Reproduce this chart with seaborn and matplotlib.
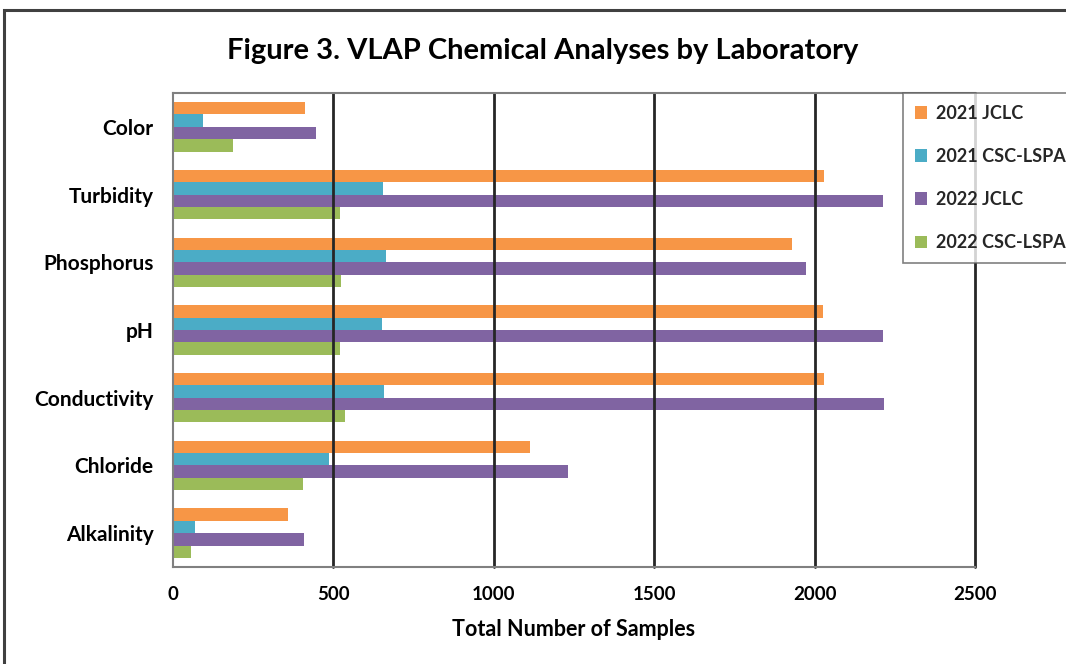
import matplotlib
matplotlib.use("Agg")
import matplotlib.pyplot as plt
from matplotlib.patches import Rectangle
import seaborn as sns
import pandas as pd

categories = ["Color", "Turbidity", "Phosphorus", "pH", "Conductivity", "Chloride", "Alkalinity"]
series_names = ["2021 JCLC", "2021 CSC-LSPA", "2022 JCLC", "2022 CSC-LSPA"]
jclc_2021 = [411, 2030, 1931, 2027, 2030, 1113, 360]
csc_2021 = [92, 654, 664, 651, 657, 486, 68]
jclc_2022 = [446, 2212, 1972, 2212, 2215, 1232, 407]
csc_2022 = [188, 521, 524, 521, 537, 404, 55]
colors = ["#F79646", "#4BACC6", "#8064A2", "#9BBB59"]
xticks = [0, 500, 1000, 1500, 2000, 2500]

rows = []
for name, vals in zip(series_names, [jclc_2021, csc_2021, jclc_2022, csc_2022]):
    for c, v in zip(categories, vals):
        rows.append({"category": c, "series": name, "value": v})
df = pd.DataFrame(rows)

sns.set_theme(style="white")
plt.rcParams["font.family"] = ["Lato", "DejaVu Sans"]

fig = plt.figure(figsize=(10.66, 6.64), dpi=100)
ax = fig.add_axes([173/1066, 1-567/664, (975-173)/1066, (567-93)/664])

sns.barplot(data=df, x="value", y="category", hue="series", orient="h",
            order=categories, hue_order=series_names, palette=colors,
            width=0.73, saturation=1, linewidth=0, ax=ax)

ax.set_xlim(0, 2500)
ax.set_ylim(6.5, -0.5)
ax.set_xticks(xticks)
ax.set_xticklabels([str(t) for t in xticks], fontsize=13.5, fontweight="bold", color="black")
ax.tick_params(axis="x", length=0, pad=14)
ax.tick_params(axis="y", length=0, pad=14)
for lab in ax.get_yticklabels():
    lab.set_fontsize(15)
    lab.set_fontweight("bold")
    lab.set_color("black")
ax.set_ylabel("")
ax.set_xlabel("Total Number of Samples", fontsize=15.5, fontweight="bold", labelpad=11, color="black")

ax.grid(False)
for t in xticks[1:]:
    ax.axvline(t, color="#262626", linewidth=2, zorder=5, clip_on=False)
for s in ["left", "top", "bottom"]:
    ax.spines[s].set_color("#808080")
    ax.spines[s].set_linewidth(1.5)
    ax.spines[s].set_zorder(6)
ax.spines["right"].set_visible(False)

handles, labels = ax.get_legend_handles_labels()
ax.legend_.remove()
leg = fig.legend(handles, labels, loc="upper left",
                 bbox_to_anchor=(903/1066, 1-93/664), bbox_transform=fig.transFigure,
                 frameon=True, fancybox=False, handlelength=0.7, handleheight=0.7,
                 handletextpad=0.45, labelspacing=1.45, borderpad=0.65, borderaxespad=0,
                 prop={"weight": "bold", "size": 13})
leg.get_frame().set_edgecolor("#606060")
leg.get_frame().set_linewidth(1.2)
leg.set_zorder(10)

fig.text(543/1066, 1-51/664, "Figure 3. VLAP Chemical Analyses by Laboratory",
         ha="center", va="center", fontsize=21, fontweight="bold", color="black")

fig.patches.append(Rectangle((4/1066, -0.1), 1.2, 1.1-10/664, transform=fig.transFigure,
                             fill=False, edgecolor="#404040", linewidth=2.2, zorder=0))

fig.savefig("out.png", dpi=100)
